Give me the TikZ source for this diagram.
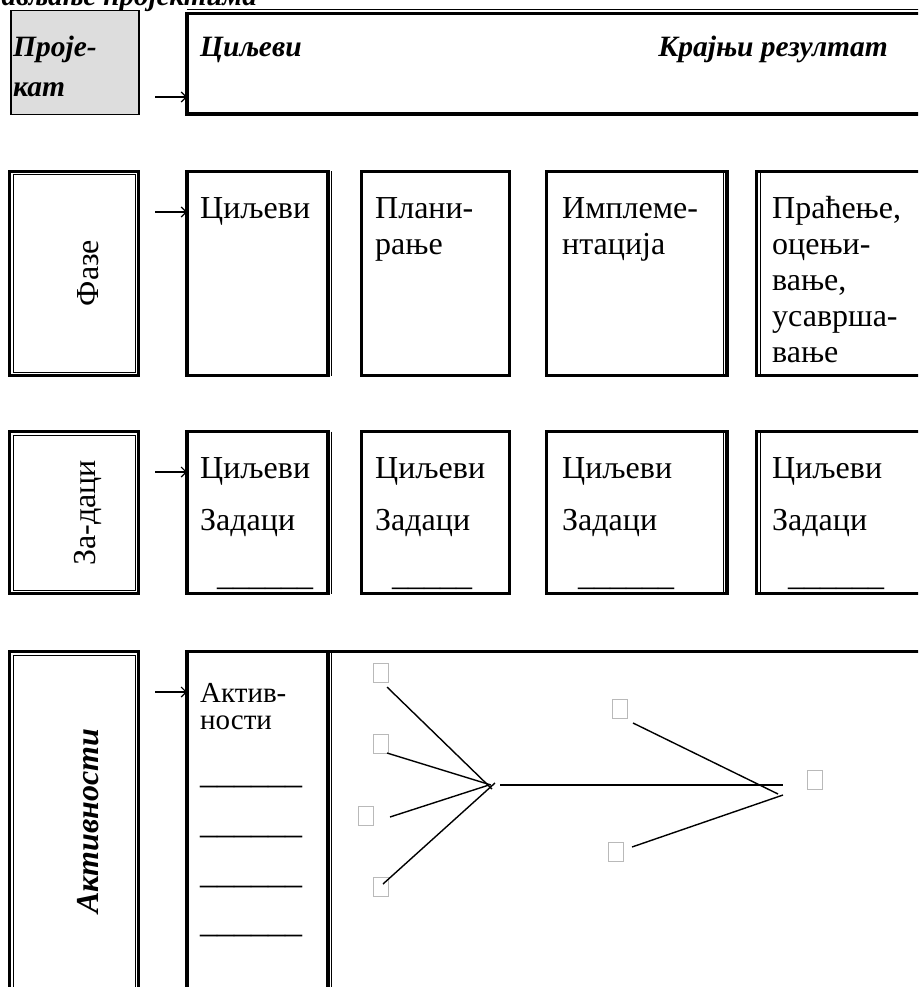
\documentclass[tikz,border=0pt]{standalone}
\usepackage{fontspec}
\setmainfont{Liberation Serif}
\usetikzlibrary{arrows.meta}
\begin{document}
\begin{tikzpicture}[x=1pt,y=-1pt,
  heavy/.style={draw, line width=3.5pt, inner sep=0pt, outer sep=0pt, anchor=north west},
  hair/.style={line width=1pt},
  lbl/.style={anchor=base west, inner sep=0pt, font=\fontsize{32}{36}\selectfont},
  slbl/.style={anchor=base west, inner sep=0pt, font=\fontsize{29}{30}\selectfont},
  blbl/.style={anchor=base west, inner sep=0pt, font=\bfseries\itshape\fontsize{29.5}{32}\selectfont},
  side/.style={inner sep=0pt, rotate=90, font=\fontsize{32}{36}\selectfont},
  bside/.style={inner sep=0pt, rotate=90, font=\bfseries\itshape\fontsize{32}{36}\selectfont},
  blank/.style={anchor=base west, inner sep=0pt, font=\fontsize{32}{36}\selectfont},
  wblank/.style={anchor=base west, inner sep=0pt, font=\fontsize{34}{36}\selectfont},
  feed/.style={line width=1.2pt, -{Straight Barb[length=5pt,width=10pt]}},
  ph/.style={draw=gray!55, line width=1.2pt, minimum width=15pt, minimum height=19pt, inner sep=0pt},
  link/.style={line width=1.4pt}
]
\useasboundingbox (0,0) rectangle (918,987);
\clip (0,0) rectangle (918,987);

% heading line above the chart
\node[inner sep=0pt, anchor=base east, font=\bfseries\itshape\fontsize{29}{30}\selectfont] (hdr) at (257,6) {управљање пројектима};

% ---------- row 1: project ----------
\node[draw, line width=1.5pt, fill={rgb,255:red,221;green,221;blue,221}, anchor=north west,
      minimum width=128pt, minimum height=104pt, inner sep=0pt] (proj) at (10,10) {};
\node[blbl] (projA) at (13,57) {Проје-};
\node[blbl] (projB) at (13,97) {кат};

\node[heavy, minimum width=800pt, minimum height=100.5pt] (goal) at (187,13.5) {};
\draw[hair] ([yshift=3.5pt]goal.north west) -- ([yshift=3.5pt]goal.north east);
\node[blbl] (goalA) at (200,57) {Циљеви};
\node[blbl, anchor=base east] (goalB) at (888,57) {Крајњи резултат};

\coordinate (f1) at (155,97);
\draw[feed] (f1) -- (f1 -| goal.west);

% ---------- row 2: phases ----------
\node[heavy, minimum width=129pt, minimum height=204pt] (phase) at (9.5,171.5) {};
\draw[hair] ([shift={(3.5pt,-3.5pt)}]phase.north west) rectangle ([shift={(-3.5pt,3.5pt)}]phase.south east);
\node[side] (phaseT) at (88,273) {Фазе};

\node[heavy, minimum width=141pt, minimum height=204pt] (p1) at (187,171.5) {};
\draw[hair] ([xshift=3.2pt]p1.north east) -- ([xshift=3.2pt]p1.south east);
\node[heavy, minimum width=148pt, minimum height=204pt] (p2) at (361.5,171.5) {};
\node[heavy, minimum width=180.5pt, minimum height=204pt] (p3) at (546.5,171.5) {};
\draw[hair] ([xshift=-3.5pt]p3.north east) -- ([xshift=-3.5pt]p3.south east);
\node[heavy, minimum width=300pt, minimum height=204pt] (p4) at (756.5,171.5) {};
\draw[hair] ([xshift=3.5pt]p4.north west) -- ([xshift=3.5pt]p4.south west);

\node[lbl] (p1a) at (200,218) {Циљеви};
\node[lbl] (p2a) at (375,218) {Плани-};
\node[lbl] (p2b) at (375,254) {рање};
\node[lbl] (p3a) at (562,218) {Имплеме-};
\node[lbl] (p3b) at (562,254) {нтација};
\node[lbl] (p4a) at (772,218) {Праћење,};
\node[lbl] (p4b) at (772,254) {оцењи-};
\node[lbl] (p4c) at (772,290) {вање,};
\node[lbl] (p4d) at (772,326) {усаврша-};
\node[lbl] (p4e) at (772,362) {вање};

\coordinate (f2) at (155,212);
\draw[feed] (f2) -- (f2 -| p1.west);

% ---------- row 3: tasks ----------
\node[heavy, minimum width=129pt, minimum height=162pt] (task) at (9.5,431.5) {};
\draw[hair] ([shift={(3.5pt,-3.5pt)}]task.north west) rectangle ([shift={(-3.5pt,3.5pt)}]task.south east);
\node[side] (taskT) at (88,513) {За-даци};

\node[heavy, minimum width=141pt, minimum height=162pt] (t1) at (187,431.5) {};
\draw[hair] ([xshift=3.2pt]t1.north east) -- ([xshift=3.2pt]t1.south east);
\node[heavy, minimum width=148pt, minimum height=162pt] (t2) at (361.5,431.5) {};
\node[heavy, minimum width=180.5pt, minimum height=162pt] (t3) at (546.5,431.5) {};
\draw[hair] ([xshift=-3.5pt]t3.north east) -- ([xshift=-3.5pt]t3.south east);
\node[heavy, minimum width=300pt, minimum height=162pt] (t4) at (756.5,431.5) {};
\draw[hair] ([xshift=3.5pt]t4.north west) -- ([xshift=3.5pt]t4.south west);

\foreach \n/\x in {1/200, 2/375, 3/562, 4/772}{
  \node[lbl] (t\n a) at (\x,478) {Циљеви};
  \node[lbl] (t\n b) at (\x,530) {Задаци};
}
\node[blank] (t1c) at (217,585) {\_\_\_\_\_\_};
\node[blank] (t2c) at (392,585) {\_\_\_\_\_};
\node[blank] (t3c) at (578,585) {\_\_\_\_\_\_};
\node[blank] (t4c) at (788,585) {\_\_\_\_\_\_};

\coordinate (f3) at (155,472);
\draw[feed] (f3) -- (f3 -| t1.west);

% ---------- row 4: activities ----------
\node[heavy, minimum width=129pt, minimum height=500pt] (act) at (9.5,651.5) {};
\draw[hair] ([shift={(3.5pt,-3.5pt)}]act.north west) rectangle ([shift={(-3.5pt,3.5pt)}]act.south east);
\node[bside] (actT) at (88,821) {Активности};

\node[heavy, minimum width=141pt, minimum height=500pt] (a1) at (187,651.5) {};
\draw[hair] ([xshift=3.2pt]a1.north east) -- ([xshift=3.2pt]a1.south east);
\node[heavy, minimum width=700pt, minimum height=500pt] (net) at (328,651.5) {};

\node[slbl, text depth=1pt] (a1a) at (200,702) {Актив-};
\node[slbl, text height=14pt] (a1b) at (200,729) {ности};
\foreach \k/\y in {1/783, 2/833, 3/883, 4/932}{
  \node[wblank] (a1l\k) at (200,\y) {\_\_\_\_\_\_};
}

\coordinate (f4) at (155,692);
\draw[feed] (f4) -- (f4 -| a1.west);

% network of activities
\node[ph] (n1) at (381,673) {};
\node[ph] (n2) at (381,744) {};
\node[ph] (n3) at (366,816) {};
\node[ph] (n4) at (381,887) {};
\node[ph] (n5) at (620,709) {};
\node[ph] (n6) at (616,852) {};
\node[ph] (n7) at (815,780) {};
\coordinate (hub) at (491,785);
\coordinate (join) at (783,785);

\draw[link] ([shift={(6pt,-14pt)}]n1.center) -- ([shift={(1pt,-4pt)}]hub);
\draw[link] ([shift={(6pt,-9pt)}]n2.center) -- (hub);
\draw[link] ([shift={(24pt,-1pt)}]n3.center) -- ([shift={(-2pt,0pt)}]hub);
\draw[link] ([shift={(2pt,3pt)}]n4.center) -- ([shift={(4pt,2pt)}]hub);
\draw[link] ([xshift=9pt]hub) -- (join);
\draw[link] ([shift={(13pt,-14pt)}]n5.center) -- ([shift={(-5pt,-9pt)}]join);
\draw[link] ([shift={(16pt,5pt)}]n6.center) -- ([shift={(0pt,-10pt)}]join);
\end{tikzpicture}
\end{document}
